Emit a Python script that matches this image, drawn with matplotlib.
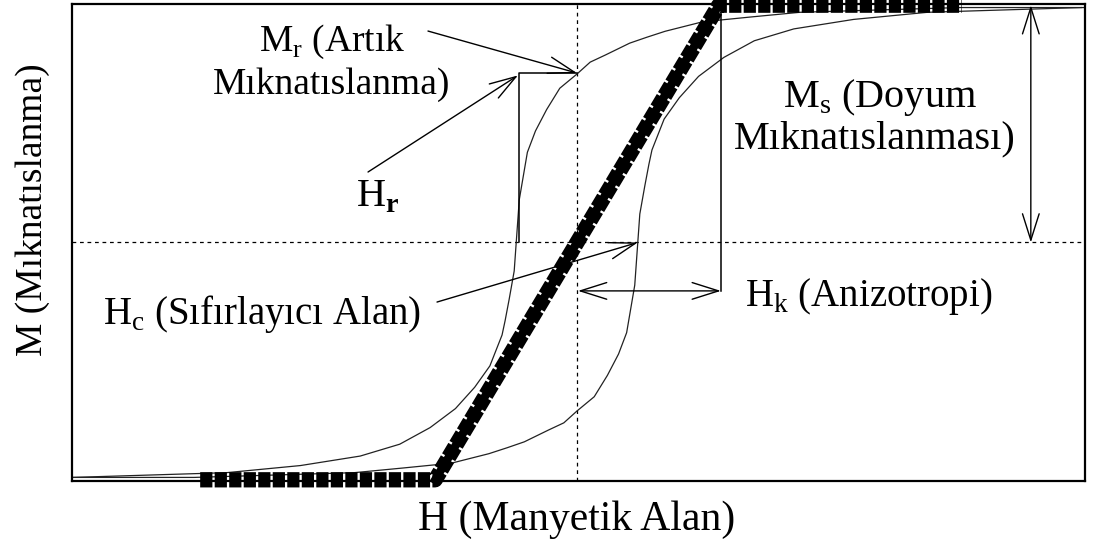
import numpy as np
import matplotlib.pyplot as plt

plt.rcParams['font.family'] = ['Liberation Serif', 'DejaVu Serif']
plt.rcParams['mathtext.fontset'] = 'custom'
plt.rcParams['mathtext.rm'] = 'Liberation Serif'
plt.rcParams['mathtext.bf'] = 'Liberation Serif:bold'

# Histerezis egrisi - inen kol (H, M)
H_desc = [-4.98, -4.22, -3.46, -2.73, -2.14, -1.75, -1.45, -1.20, -1.01, -0.86, -0.74, -0.71, -0.67, -0.62,
          -0.60, -0.57, -0.49, -0.41, -0.30, -0.17, 0.00, 0.13, 0.28, 0.52, 0.69, 0.87, 1.24, 1.71, 2.20,
          2.99, 3.78, 5.00]
M_desc = [-0.99, -0.98, -0.97, -0.94, -0.90, -0.85, -0.78, -0.70, -0.61, -0.52, -0.39, -0.33, -0.24, -0.12,
          0.00, 0.18, 0.38, 0.47, 0.56, 0.65, 0.71, 0.76, 0.79, 0.84, 0.865, 0.89, 0.93, 0.95, 0.97,
          0.98, 0.99, 0.99]
# cikan kol
H_asc = [-5.00, -3.78, -2.99, -2.20, -1.71, -1.24, -0.87, -0.69, -0.52, -0.28, -0.13, 0.00, 0.17, 0.30,
         0.41, 0.49, 0.57, 0.60, 0.62, 0.67, 0.71, 0.74, 0.86, 1.01, 1.20, 1.45, 1.75, 2.14, 2.73,
         3.46, 4.22, 4.98]
M_asc = [-0.99, -0.99, -0.98, -0.97, -0.95, -0.93, -0.89, -0.865, -0.84, -0.79, -0.76, -0.71, -0.65, -0.56,
         -0.47, -0.38, -0.18, 0.00, 0.12, 0.24, 0.33, 0.39, 0.52, 0.61, 0.70, 0.78, 0.85, 0.90, 0.94,
         0.97, 0.98, 0.99]
# kalin (histerezissiz) egri
H_thick = [-3.72, -1.40, 1.40, 3.80]
M_thick = [-1.0, -1.0, 1.0, 1.0]

# karakteristik degerler
Ms = 1.0
Mr = 0.714
Hc = 0.60
Hr = -0.573
Hk = 1.42

fig = plt.figure(figsize=(10.93, 5.47), dpi=100)
ax = fig.add_axes([0.0659, 0.1207, 0.9268, 0.872])
ax.set_xlim(-4.985, 5.015)
ax.set_ylim(-1.005, 1.005)
ax.set_xticks([])
ax.set_yticks([])
for s in ax.spines.values():
    s.set_linewidth(1.6)

ax.axhline(0, color='k', lw=0.9, ls=(0, (3, 3)))
ax.axvline(0, color='k', lw=0.9, ls=(0, (3, 3)))

ax.plot(H_desc, M_desc, color='#222222', lw=0.9)
ax.plot(H_asc, M_asc, color='#222222', lw=0.9)

ax.plot(H_thick, M_thick, color='k', lw=11, ls=(0, (0.8, 0.15)), clip_on=False, zorder=4)
ax.plot(H_thick[1:3], M_thick[1:3], color='k', lw=6, clip_on=False, zorder=4)


def arrow(x0, y0, x1, y1, style='->'):
    ax.annotate('', xy=(x1, y1), xytext=(x0, y0),
                arrowprops=dict(arrowstyle=style + ',head_length=1.9,head_width=0.6', lw=1.0, color='k',
                                shrinkA=0, shrinkB=0, mutation_scale=10))


# Mr, Hr
ax.plot([Hr, Hr, 0], [0, Mr, Mr], color='k', lw=1.1)
arrow(-1.471, 0.891, 0, Mr)
arrow(-2.063, 0.297, Hr - 0.01, Mr - 0.01)
# Hc
arrow(-1.382, -0.251, Hc, 0)
# Hk
ax.plot([Hk, Hk], [Ms, -0.204], color='k', lw=1.1)
arrow(0.01, -0.204, Hk, -0.204, '<->')
# Ms
arrow(4.48, 0.0, 4.48, Ms, '<->')

ax.text(-2.42, 0.844, 'M$_\\mathregular{r}$ (Artık', fontsize=27, ha='center', va='center')
ax.text(-2.42, 0.663, 'Mıknatıslanma)', fontsize=27, ha='center', va='center')
ax.text(-1.97, 0.19, 'H$_\\mathbf{r}$', fontsize=29, ha='center', va='center')
ax.text(2.99, 0.613, 'M$_\\mathregular{s}$ (Doyum', fontsize=29, ha='center', va='center')
ax.text(2.94, 0.435, 'Mıknatıslanması)', fontsize=29, ha='center', va='center')
ax.text(1.66, -0.229, 'H$_\\mathregular{k}$ (Anizotropi)', fontsize=28, ha='left', va='center')
ax.text(-4.68, -0.301, 'H$_\\mathregular{c}$ (Sıfırlayıcı Alan)', fontsize=28, ha='left', va='center')

fig.text(0.5279, 0.049, 'H (Manyetik Alan)', fontsize=30, ha='center', va='center')
fig.text(0.0302, 0.616, 'M (Mıknatıslanma)', fontsize=27, ha='center', va='center', rotation=90)

fig.savefig('out.png', dpi=100)
